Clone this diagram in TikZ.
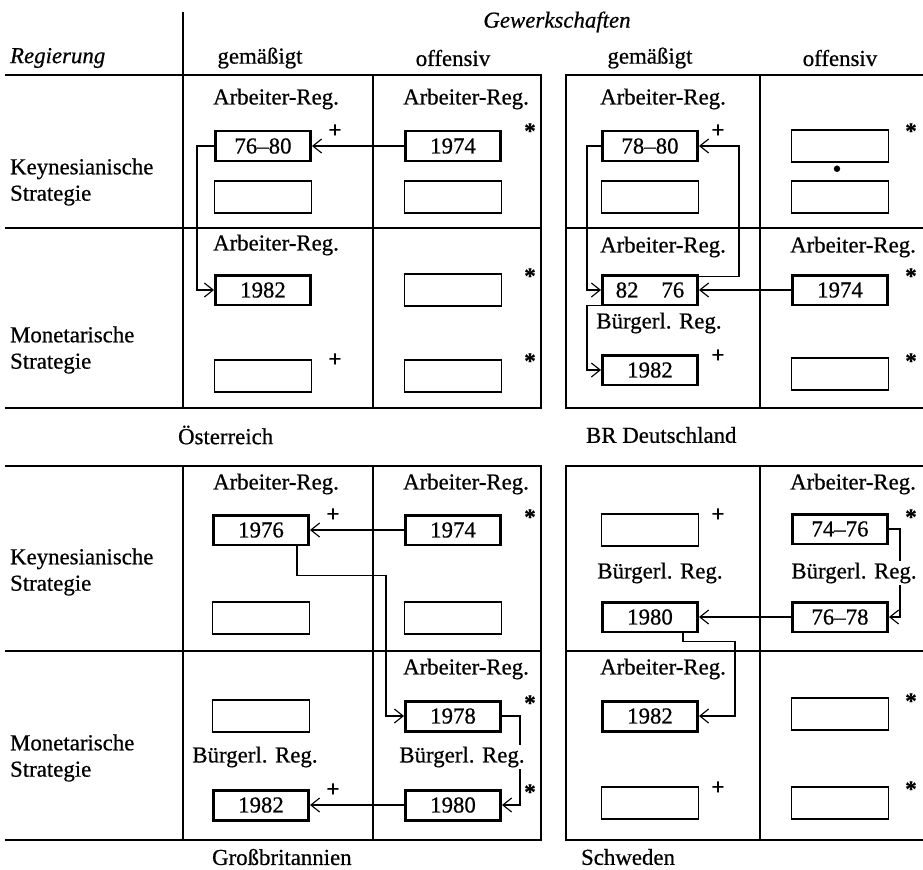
\documentclass[tikz,border=0pt]{standalone}
\usepackage{fontspec}
\setmainfont{Liberation Serif}[FakeBold=0.6]
\usetikzlibrary{arrows.meta, positioning, calc}

\begin{document}
\begin{tikzpicture}[x=0.02cm, y=-0.02cm,
  font=\fontsize{13}{15}\selectfont,
  yr/.style={draw, line width=1.7pt, minimum width=1.9cm,
             minimum height=0.6cm, inner sep=0pt},
  em/.style={draw, line width=0.8pt, minimum width=1.94cm,
             minimum height=0.64cm, inner sep=0pt},
  fr/.style={line width=0.8pt},
  cn/.style={line width=0.65pt, -{Straight Barb[length=5pt, width=8pt]}},
  mk/.style={inner sep=0pt, font=\fontsize{13}{13}\selectfont\bfseries},
  lab/.style={inner sep=1pt}
]
  \useasboundingbox (0,0) rectangle (923,869);

  % ---- Kopf ----
  \node[lab, font=\fontsize{13}{15}\selectfont\itshape] (gew) at (557,22) {Gewerkschaften};
  \node[lab, anchor=west, font=\fontsize{13}{15}\selectfont\itshape] (reg) at (8,58) {Regierung};
  \node[lab] (h1) at (260,58) {gemäßigt};
  \node[lab] (h2) at (453,58) {offensiv};
  \node[lab] (h3) at (650,58) {gemäßigt};
  \node[lab] (h4) at (840,58) {offensiv};

  \node[lab, anchor=west, align=left] (k1) at (8,182) {Keynesianische\\Strategie};
  \node[lab, anchor=west, align=left] (m1) at (8,350) {Monetarische\\Strategie};
  \node[lab, anchor=west, align=left] (k2) at (8,572) {Keynesianische\\Strategie};
  \node[lab, anchor=west, align=left] (m2) at (8,758) {Monetarische\\Strategie};

  % ---- Rahmen ----
  \draw[fr] (183,12) -- (183,408);
  \draw[fr] (5,75) -- (541,75) -- (541,408) -- (5,408);
  \draw[fr] (5,228) -- (541,228);  \draw[fr] (373,75) -- (373,408);
  \draw[fr] (925,75) -- (566,75) -- (566,408) -- (925,408);
  \draw[fr] (566,228) -- (925,228); \draw[fr] (760,75) -- (760,408);

  \draw[fr] (5,466) -- (541,466) -- (541,840) -- (5,840);
  \draw[fr] (183,466) -- (183,840);
  \draw[fr] (5,651) -- (541,651);  \draw[fr] (373,466) -- (373,840);
  \draw[fr] (925,466) -- (566,466) -- (566,840) -- (925,840);
  \draw[fr] (566,651) -- (925,651); \draw[fr] (760,466) -- (760,840);

  % ---- Österreich ----
  \node[lab] (oL1) at (276,99) {Arbeiter-Reg.};
  \node[lab] (oL2) at (466,99) {Arbeiter-Reg.};
  \node[lab] (oL3) at (276,245) {Arbeiter-Reg.};
  \node[yr] (oA) at (263,146) {76--80};
  \node[em] (oB) at (263,197) {};
  \node[yr] (oC) at (263,290) {1982};
  \node[em] (oD) at (263,376) {};
  \node[yr] (oE) at (453,146) {1974};
  \node[em] (oF) at (453,197) {};
  \node[em] (oG) at (453,290) {};
  \node[em] (oH) at (453,376) {};
  \node[mk] (op1) at (335,131) {+};
  \node[mk] (op2) at (335,360) {+};
  \node[mk] (os1) at (530,131) {*};
  \node[mk] (os2) at (530,276) {*};
  \node[mk] (os3) at (530,361) {*};
  \draw[cn] (oE) -- (oA);
  \draw[cn] (oA.west) -- ++(-17,0) |- (oC.west);

  % ---- BR Deutschland ----
  \node[lab] (dL1) at (663,99) {Arbeiter-Reg.};
  \node[lab] (dL2) at (663,247) {Arbeiter-Reg.};
  \node[lab] (dL3) at (853,247) {Arbeiter-Reg.};
  \node[lab] (dL4) at (659,323) {Bürgerl. Reg.};
  \node[yr] (dA) at (650,146) {78--80};
  \node[em] (dB) at (650,197) {};
  \node[yr] (dC) at (650,290) {82\quad 76};
  \node[yr] (dD) at (650,370) {1982};
  \node[em] (dE) at (840,146) {};
  \node[em] (dF) at (840,197) {};
  \node[yr] (dG) at (840,290) {1974};
  \node[em] (dH) at (840,374) {};
  \node[mk] (dp1) at (718,131) {+};
  \node[mk] (dp2) at (718,356) {+};
  \node[mk] (ds1) at (911,131) {*};
  \node[mk] (ds2) at (911,276) {*};
  \node[mk] (ds3) at (911,361) {*};
  \node[mk] (dpt) at (837,171) {\textbullet};
  \draw[cn] (dA.west) -- ++(-14,0) |- (dC.west);
  \draw[cn] ($(dC.north east)+(0,3)$) -- ++(40,0) |- (dA.east);
  \draw[cn] (dG) -- (dC);
  \draw[cn] ($(dC.south west)+(0,-1)$) -- ++(-14,0) |- (dD.west);

  % ---- Großbritannien ----
  \node[lab] (gL1) at (276,484) {Arbeiter-Reg.};
  \node[lab] (gL2) at (466,484) {Arbeiter-Reg.};
  \node[lab] (gL3) at (466,669) {Arbeiter-Reg.};
  \node[lab] (gL4) at (255,757) {Bürgerl. Reg.};
  \node[yr] (gA) at (261,530) {1976};
  \node[em] (gB) at (261,618) {};
  \node[em] (gC) at (261,716) {};
  \node[yr] (gD) at (261,805) {1982};
  \node[yr] (gE) at (453,530) {1974};
  \node[em] (gF) at (453,618) {};
  \node[yr] (gG) at (453,716) {1978};
  \node[yr] (gH) at (453,805) {1980};
  \node[mk] (gp1) at (333,515) {+};
  \node[mk] (gp2) at (333,790) {+};
  \node[mk] (gs1) at (530,517) {*};
  \node[mk] (gs2) at (530,703) {*};
  \node[mk] (gs3) at (530,792) {*};
  \draw[cn] (gE) -- (gA);
  \draw[cn] ($(gA.south)+(36,0)$) -- ++(0,29) -| ($(gG.west)+(-18,0)$) -- (gG.west);
  \draw[cn] (gG.east) -- ++(18,0) |- (gH.east);
  \draw[cn] (gH) -- (gD);
  % Text unterbricht die Linie
  \node[lab, fill=white] (gL5) at (462,757) {Bürgerl. Reg.};

  % ---- Schweden ----
  \node[lab] (sL1) at (853,484) {Arbeiter-Reg.};
  \node[lab] (sL2) at (660,573) {Bürgerl. Reg.};
  \node[lab] (sL4) at (663,669) {Arbeiter-Reg.};
  \node[em] (sA) at (650,530) {};
  \node[yr] (sB) at (650,617) {1980};
  \node[yr] (sC) at (650,716) {1982};
  \node[em] (sD) at (650,803) {};
  \node[yr] (sE) at (840,529) {74--76};
  \node[yr] (sF) at (840,617) {76--78};
  \node[em] (sG) at (840,714) {};
  \node[em] (sH) at (840,803) {};
  \node[mk] (sp1) at (718,515) {+};
  \node[mk] (sp2) at (718,788) {+};
  \node[mk] (ss1) at (911,517) {*};
  \node[mk] (ss2) at (911,701) {*};
  \node[mk] (ss3) at (911,789) {*};
  \draw[cn] (sE.east) -- ++(11,0) |- (sF.east);
  \draw[cn] (sF) -- (sB);
  \draw[cn] ($(sB.south)+(33,0)$) -- ++(0,8) -| ($(sC.east)+(36,0)$) -- (sC.east);
  \node[lab, fill=white] (sL3) at (854,573) {Bürgerl. Reg.};

  % ---- Länder ----
  \node[lab, anchor=west] (at) at (176,435) {Österreich};
  \node[lab, anchor=west] (de) at (584,435) {BR Deutschland};
  \node[lab, anchor=west] (gb) at (210,857) {Großbritannien};
  \node[lab, anchor=west] (se) at (579,857) {Schweden};
\end{tikzpicture}
\end{document}
